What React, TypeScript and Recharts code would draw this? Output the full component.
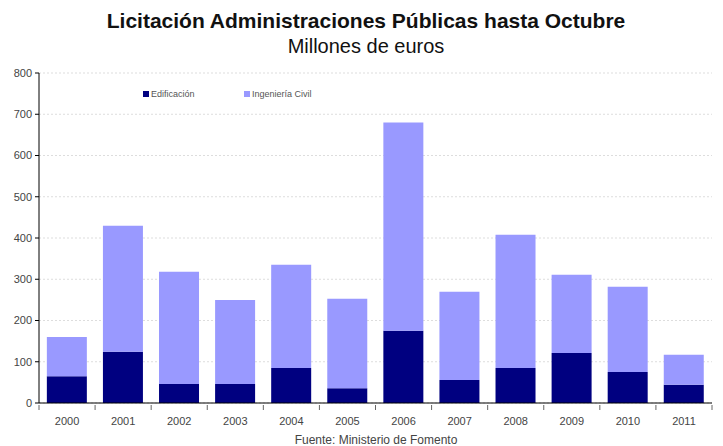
import React from 'react';
import { BarChart, Bar, XAxis, YAxis, CartesianGrid, Legend } from 'recharts';

const years = ['2000', '2001', '2002', '2003', '2004', '2005', '2006', '2007', '2008', '2009', '2010', '2011'];
const edificacion = [65, 124, 46, 46, 85, 36, 175, 56, 85, 121, 75, 44];
const ingenieriaCivil = [95, 306, 272, 204, 250, 217, 505, 214, 323, 190, 207, 73];
const yTicks = [0, 100, 200, 300, 400, 500, 600, 700, 800];

const data = years.map((year, i) => ({
  year,
  edificacion: edificacion[i],
  civil: ingenieriaCivil[i],
}));

const FONT = '"Liberation Sans", Arial, sans-serif';
const NAVY = '#000080';
const LAVENDER = '#9999ff';

// year label centred in its band, tick marks drawn on the band edges
const YearTick = (props: any) => {
  const { x, y, payload, index } = props;
  const half = payload.offset || 0;
  const last = index === years.length - 1;
  return (
    <g>
      <line x1={x - half} x2={x - half} y1={y} y2={y + 5} stroke="#666" />
      {last && <line x1={x + half} x2={x + half} y1={y} y2={y + 5} stroke="#666" />}
      <text x={x} y={y + 12} dy="0.71em" textAnchor="middle" fill="#444" fontSize={11} fontFamily={FONT}>
        {payload.value}
      </text>
    </g>
  );
};

const LegendBox = () => (
  <div style={{ display: 'flex', fontFamily: FONT, fontSize: 9, color: '#555' }}>
    <div style={{ display: 'flex', alignItems: 'center', width: 101 }}>
      <span style={{ width: 6, height: 6, background: NAVY, marginRight: 2 }} />
      Edificación
    </div>
    <div style={{ display: 'flex', alignItems: 'center' }}>
      <span style={{ width: 6, height: 6, background: LAVENDER, marginRight: 2 }} />
      Ingeniería Civil
    </div>
  </div>
);

export default function App() {
  return (
    <div style={{ position: 'absolute', left: 0, top: 0, width: 723, height: 446, background: '#fff', overflow: 'hidden' }}>
      <div style={{ position: 'absolute', top: 9, width: 732, textAlign: 'center', fontFamily: FONT, fontWeight: 'bold', fontSize: 21, color: '#111' }}>
        Licitación Administraciones Públicas hasta Octubre
      </div>
      <div style={{ position: 'absolute', top: 35, width: 732, textAlign: 'center', fontFamily: FONT, fontSize: 20, color: '#111' }}>
        Millones de euros
      </div>
      <div style={{ position: 'absolute', top: 433, width: 752, textAlign: 'center', fontFamily: FONT, fontSize: 12, color: '#444' }}>
        Fuente: Ministerio de Fomento
      </div>
      <BarChart
        width={723}
        height={446}
        data={data}
        margin={{ top: 73, right: 11, left: 0, bottom: 0 }}
        barCategoryGap="14%"
        style={{ position: 'absolute', left: 0, top: 0 }}
      >
        <CartesianGrid vertical={false} stroke="#dddddd" strokeDasharray="2 2" />
        <XAxis
          dataKey="year"
          height={43}
          stroke="#000"
          tickLine={false}
          tickSize={0}
          interval={0}
          tick={<YearTick />}
        />
        <YAxis
          width={39}
          domain={[0, 800]}
          ticks={yTicks}
          interval={0}
          stroke="#000"
          tickSize={4}
          tickMargin={3}
          tick={{ fill: '#444', fontSize: 11, fontFamily: FONT }}
        />
        <Legend
          verticalAlign="middle"
          layout="horizontal"
          content={() => <LegendBox />}
          wrapperStyle={{ position: 'absolute', top: 89, left: 143, width: 'auto' }}
        />
        <Bar dataKey="edificacion" name="Edificación" stackId="a" fill={NAVY} isAnimationActive={false} />
        <Bar dataKey="civil" name="Ingeniería Civil" stackId="a" fill={LAVENDER} isAnimationActive={false} />
      </BarChart>
    </div>
  );
}
